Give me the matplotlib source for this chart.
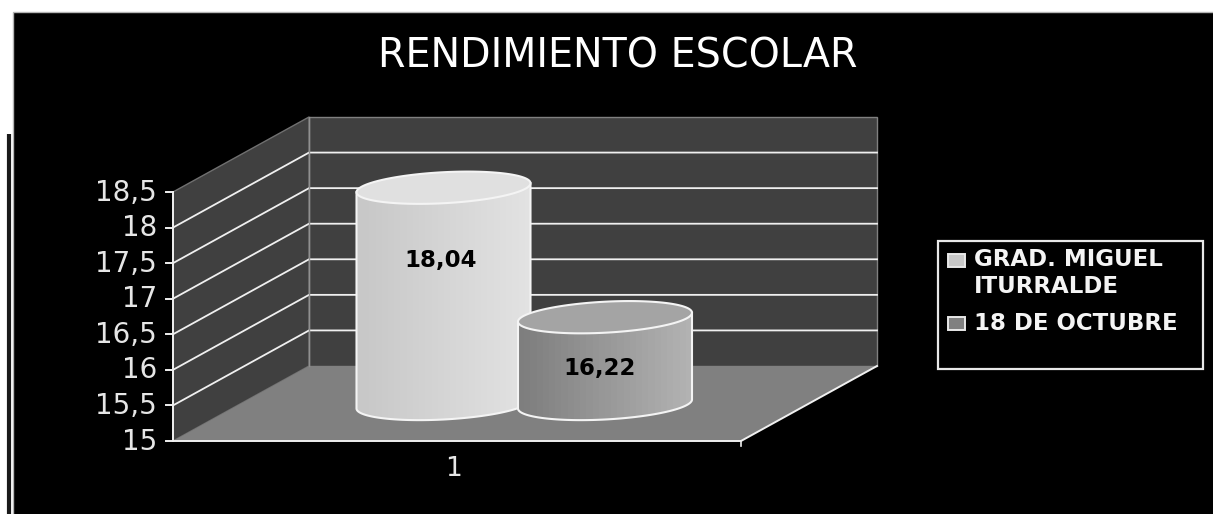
import numpy as np
import matplotlib
matplotlib.use("Agg")
import matplotlib.pyplot as plt
from matplotlib.patches import Polygon, Rectangle
from matplotlib.colors import LinearSegmentedColormap

W, H = 1213, 514
title = "RENDIMIENTO ESCOLAR"
series_names = ["GRAD. MIGUEL\nITURRALDE", "18 DE OCTUBRE"]
series_values = [18.04, 16.22]
value_labels = ["18,04", "16,22"]
y_ticks = [15, 15.5, 16, 16.5, 17, 17.5, 18, 18.5]
y_tick_labels = ["15", "15,5", "16", "16,5", "17", "17,5", "18", "18,5"]
category = "1"

PX_PER_UNIT = 249 / 3.5
Y15 = 441
def v2y(v):
    return Y15 - (v - 15) * PX_PER_UNIT

plt.rcParams['font.family'] = ['DejaVu Sans']
fig = plt.figure(figsize=(W / 100, H / 100), dpi=100, facecolor='white')
ax = fig.add_axes([0, 0, 1, 1])
ax.set_xlim(0, W)
ax.set_ylim(H, 0)
ax.axis('off')

# panel
ax.add_patch(Rectangle((12.5, 11.5), W + 20, H + 20, fc='black', ec='#b4b4b4', lw=1, zorder=0))
ax.plot([8.5, 8.5], [134, H], color='#1a1a1a', lw=3, solid_capstyle='butt', zorder=1)

X0, X1 = 173, 741
DX, DY = 136, -75
vmin, vmax = y_ticks[0], y_ticks[-1]
# walls
ax.add_patch(Polygon([(X0 + DX, v2y(vmin) + DY), (X1 + DX, v2y(vmin) + DY),
                      (X1 + DX, v2y(vmax) + DY), (X0 + DX, v2y(vmax) + DY)],
                     fc='#404040', ec='#808080', lw=1, zorder=2))
ax.add_patch(Polygon([(X0, v2y(vmin)), (X0 + DX, v2y(vmin) + DY),
                      (X0 + DX, v2y(vmax) + DY), (X0, v2y(vmax))],
                     fc='#404040', ec='#707070', lw=1, zorder=2))
ax.add_patch(Polygon([(X0, v2y(vmin)), (X1, v2y(vmin)),
                      (X1 + DX, v2y(vmin) + DY), (X0 + DX, v2y(vmin) + DY)],
                     fc='#808080', ec='none', zorder=2))
for v in y_ticks[1:-1]:
    y = v2y(v)
    ax.plot([X0, X0 + DX, X1 + DX], [y, y + DY, y + DY], color='#f0f0f0', lw=1.3, zorder=3)
ax.plot([X0 + DX, X0 + DX], [v2y(vmin) + DY, v2y(vmax) + DY], color='#909090', lw=1, zorder=3)
# axes
ax.plot([X0, X0], [v2y(vmin), v2y(vmax)], color='#f0f0f0', lw=1.4, zorder=3)
ax.plot([X0, X1, X1 + DX], [v2y(vmin), v2y(vmin), v2y(vmin) + DY], color='#f0f0f0', lw=1.4, zorder=3)
for v, lab in zip(y_ticks, y_tick_labels):
    y = v2y(v)
    ax.plot([X0 - 7, X0], [y, y], color='#f0f0f0', lw=1.4, zorder=3)
    ax.text(157, y + 8.5, lab, color='#e6e6e6', fontsize=20, ha='right', va='baseline', zorder=4)
ax.plot([X1, X1], [v2y(vmin), v2y(vmin) + 5], color='#f0f0f0', lw=1.2, zorder=3)
ax.text(453, 469, category, color='#e6e6e6', fontsize=19, ha='center', va='center', zorder=4)

ax.text(618, 68, title, color='white', fontsize=28.5, ha='center', va='baseline', zorder=4)

# cylinders
CX = [443.5, 605]
A = [87, 87]
B = 15.5
SH = 4.5
BASE = 404
side_cols = [('#c8c8c8', '#e2e2e2'), ('#7e7e7e', '#b2b2b2')]
top_cols = ['#e0e0e0', '#a4a4a4']
t = np.linspace(0, 2 * np.pi, 181)
for i, (val, cx, a) in enumerate(zip(series_values, CX, A)):
    h = (val - 15) * PX_PER_UNIT
    ytop, ybot = BASE - h, BASE
    tf = np.linspace(0, np.pi, 91)
    bx = cx + a * np.cos(tf)
    by = ybot + B * np.sin(tf) - SH * np.cos(tf)
    lx, rx = cx - a, cx + a
    yr_top, yl_top = ytop - SH, ytop + SH
    side = np.r_[np.c_[bx, by], [[lx, yl_top]], [[rx, yr_top]]]
    cmap = LinearSegmentedColormap.from_list('c', side_cols[i])
    z = 5 + i
    im = ax.imshow(np.linspace(0, 1, 28)[None, :], cmap=cmap, extent=(lx, rx, ybot + 30, ytop - 30),
                   aspect='auto', zorder=z, interpolation='nearest')
    im.set_clip_path(Polygon(side, transform=ax.transData))
    ax.plot(np.r_[rx, bx, lx], np.r_[yr_top, by, yl_top], color='#f4f4f4', lw=1.5, zorder=z)
    ex = cx + a * np.cos(t)
    ey = ytop - B * np.sin(t) - SH * np.cos(t)
    ax.add_patch(Polygon(np.c_[ex, ey], fc=top_cols[i], ec='#f4f4f4', lw=1.5, zorder=z))
ax.set_xlim(0, W)
ax.set_ylim(H, 0)

for lab, cx, y in zip(value_labels, [441, 600], [267, 375]):
    ax.text(cx, y, lab, color='black', fontsize=16.5, fontweight='bold', ha='center', va='baseline', zorder=8)

# legend
ax.add_patch(Rectangle((937.5, 240.5), 265, 128, fc='black', ec='#e8e8e8', lw=1.6, zorder=4))
for y, col in zip([260, 323.5], ['#c8c8c8', '#808080']):
    ax.add_patch(Rectangle((948, y - 6.5), 17, 13, fc=col, ec='#e8e8e8', lw=1.4, zorder=5))
ax.text(974, 266, series_names[0].split("\n")[0], color='#f4f4f4', fontsize=16.5, fontweight='bold',
        ha='left', va='baseline', zorder=5)
ax.text(974, 293, series_names[0].split("\n")[1], color='#f4f4f4', fontsize=16.5, fontweight='bold',
        ha='left', va='baseline', zorder=5)
ax.text(974, 330, series_names[1], color='#f4f4f4', fontsize=16.5, fontweight='bold',
        ha='left', va='baseline', zorder=5)

fig.savefig('out.png', dpi=100, facecolor='white')
